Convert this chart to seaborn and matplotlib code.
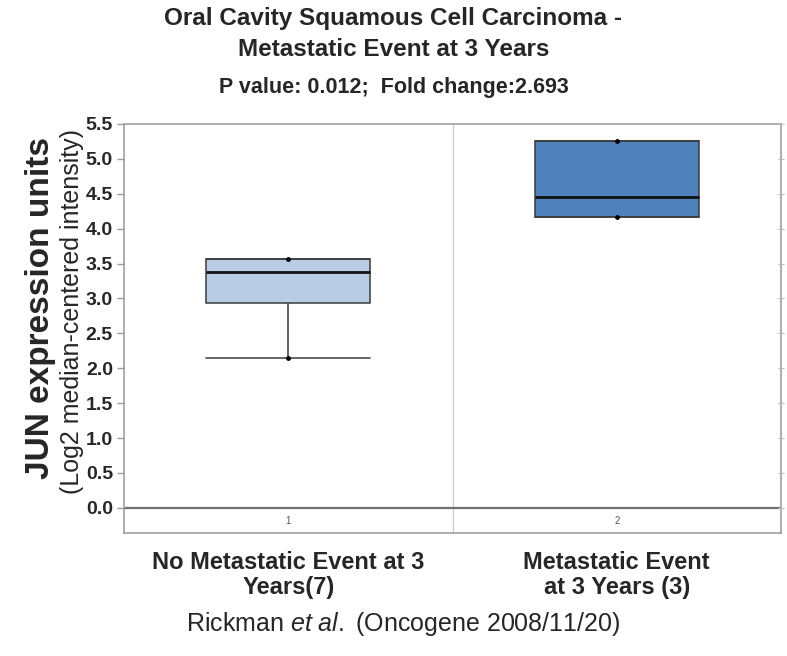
import pandas as pd
import matplotlib
matplotlib.use("Agg")
import matplotlib.pyplot as plt
import seaborn as sns

# five-number summaries (min, q1, median, q3, max)
groups = ["No Metastatic Event at 3\nYears(7)", "Metastatic Event\nat 3 Years (3)"]
group_ids = ["1", "2"]
no_meta = [2.15, 2.94, 3.385, 3.57, 3.57]
meta = [4.17, 4.17, 4.45, 5.25, 5.25]
box_colors = ["#b8cce4", "#4f81bd"]
yticks = [0.0, 0.5, 1.0, 1.5, 2.0, 2.5, 3.0, 3.5, 4.0, 4.5, 5.0, 5.5]

df = pd.DataFrame({
    "group": [groups[0]] * len(no_meta) + [groups[1]] * len(meta),
    "value": no_meta + meta,
})
ends = pd.DataFrame({
    "group": [groups[0], groups[0], groups[1], groups[1]],
    "value": [no_meta[0], no_meta[-1], meta[0], meta[-1]],
})

sns.set_style("white")
plt.rcParams["font.family"] = ["Liberation Sans", "DejaVu Sans"]
plt.rcParams["mathtext.fontset"] = "custom"
plt.rcParams["mathtext.rm"] = "Liberation Sans"
plt.rcParams["mathtext.it"] = "Liberation Sans:italic"

fig = plt.figure(figsize=(7.87, 6.56), dpi=100)
ax = fig.add_axes([0.1576, 0.1875, 0.8348, 0.6235])

sns.boxplot(data=df, x="group", y="value", hue="group", palette=box_colors,
            order=groups, hue_order=groups, legend=False,
            width=0.5, whis=(0, 100), showfliers=False, saturation=1,
            linecolor="#3a3a3a", linewidth=1.1, capwidths=0.5,
            medianprops={"color": "#111111", "linewidth": 2},
            ax=ax)
sns.stripplot(data=ends, x="group", y="value", order=groups, jitter=False,
              color="black", size=3.5, ax=ax)

ax.set_ylim(-0.36, 5.5)
ax.set_xlim(-0.5, 1.5)
ax.set_yticks(yticks)
ax.set_yticklabels([f"{v:.1f}" for v in yticks], fontsize=14, fontweight="bold")
ax.tick_params(axis="y", left=True, length=5, width=1, color="#999999", pad=3)
ax.tick_params(axis="x", bottom=False, length=0, pad=13)
ax.set_xticks([0, 1])
ax.set_xticklabels(groups, fontsize=17, fontweight="bold", linespacing=1.1)
ax.set_xlabel("")
ax.set_ylabel("")

for s in ax.spines.values():
    s.set_color("#a0a0a0")
    s.set_linewidth(1.2)

ax.axhline(0, color="#707070", lw=1.6, zorder=1)
ax.axvline(0.5, color="#d0d0d0", lw=1, zorder=0)

# small index labels under the zero line
for i, gid in enumerate(group_ids):
    ax.text(i, -0.19, gid, ha="center", va="center", fontsize=7, color="#555555")

# right-side minor ticks
ax2 = ax.twinx()
ax2.set_ylim(ax.get_ylim())
ax2.set_yticks(yticks)
ax2.set_yticklabels([])
ax2.tick_params(axis="y", right=True, direction="inout", length=5, color="#bbbbbb")
for s in ax2.spines.values():
    s.set_visible(False)

fig.text(0.5, 1 - 18 / 656, "Oral Cavity Squamous Cell Carcinoma -",
         ha="center", va="center", fontsize=17.5, fontweight="bold")
fig.text(0.5, 1 - 50 / 656, "Metastatic Event at 3 Years",
         ha="center", va="center", fontsize=17.5, fontweight="bold")
fig.text(0.5, 1 - 88 / 656, "P value: 0.012;  Fold change:2.693",
         ha="center", va="center", fontsize=15.5, fontweight="bold")

fig.text(0.051, 1 - 308 / 656, "JUN expression units", rotation=90, ha="center",
         va="center", fontsize=24, fontweight="bold")
fig.text(0.092, 1 - 312 / 656, "(Log2 median-centered intensity)", rotation=90,
         ha="center", va="center", fontsize=18)

fig.text(0.512, 1 - 624 / 656, r"Rickman $\mathit{et\ al.}$ (Oncogene 2008/11/20)",
         ha="center", va="center", fontsize=18)

fig.savefig("out.png", dpi=100)
